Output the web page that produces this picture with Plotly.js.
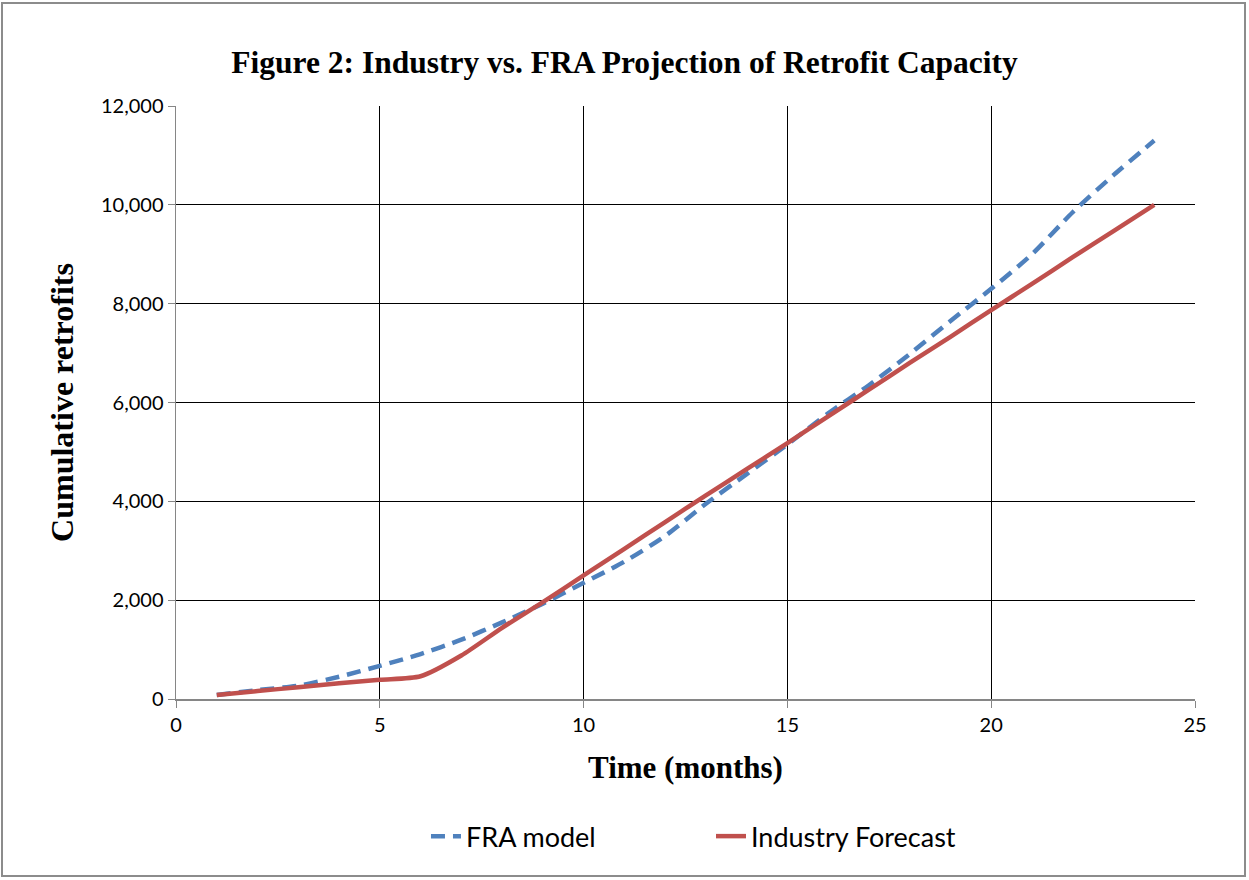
<!DOCTYPE html>
<html>
<head>
<meta charset="utf-8">
<script src="https://cdn.plot.ly/plotly-3.0.1.min.js"></script>
<style>
html,body{margin:0;padding:0;background:#fff;}
#wrap{position:relative;width:1249px;height:880px;}
#chart{width:1249px;height:880px;}
#frame{position:absolute;left:1px;top:2px;width:1245px;height:875px;border:2px solid #8c8c8c;box-sizing:border-box;pointer-events:none;}
</style>
</head>
<body>
<div id="wrap"><div id="chart"></div><div id="frame"></div></div>
<script>
const months = [1,2,3,4,5,6,7,8,9,10,11,12,13,14,15,16,17,18,19,20,21,22,23,24];
const fraModel = [80,180,270,450,670,910,1200,1550,1930,2350,2780,3300,3950,4550,5150,5780,6350,6980,7650,8300,9000,9850,10600,11300];
const industryForecast = [80,160,240,320,390,460,880,1440,1960,2500,3040,3580,4120,4650,5180,5720,6260,6800,7330,7870,8400,8940,9470,10000];
const xTicks = [0,5,10,15,20,25];
const yTicks = [0,2000,4000,6000,8000,10000,12000];

const traces = [
  {x: months, y: fraModel, name: 'FRA model', mode: 'lines',
   line: {color: '#4F81BD', width: 4.5, dash: '14px,8px', shape: 'spline', smoothing: 0.7}},
  {x: months, y: industryForecast, name: 'Industry Forecast', mode: 'lines',
   line: {color: '#C0504D', width: 4.5, shape: 'spline', smoothing: 0.7}}
];

const serif = 'Liberation Serif, Times New Roman, serif';
const sans = 'Lato, Open Sans, sans-serif';

const layout = {
  width: 1249, height: 880,
  margin: {l: 176, r: 54, t: 106, b: 181},
  paper_bgcolor: '#fff', plot_bgcolor: '#fff',
  title: {text: 'Figure 2: Industry vs. FRA Projection of Retrofit Capacity',
          font: {family: serif, size: 31.5, color: '#000', weight: 'bold'},
          x: 0.5, xanchor: 'center', y: 0.93, yanchor: 'middle'},
  xaxis: {range: [0, 25], tickvals: xTicks, ticktext: xTicks.map(String),
          showgrid: true, gridcolor: '#000', gridwidth: 1, zeroline: false,
          showline: true, linecolor: '#868686', linewidth: 1.5,
          ticks: 'outside', ticklen: 7, tickcolor: '#868686',
          tickfont: {family: sans, size: 20, color: '#000'},
          title: {text: 'Time (months)', standoff: 22,
                  font: {family: serif, size: 31, color: '#000', weight: 'bold'}}},
  yaxis: {range: [0, 12000], tickvals: yTicks, ticktext: yTicks.map(v => v.toLocaleString('en-US')),
          showgrid: true, gridcolor: '#000', gridwidth: 1, zeroline: false,
          showline: true, linecolor: '#868686', linewidth: 1.5,
          ticks: 'outside', ticklen: 7, tickcolor: '#868686',
          tickfont: {family: sans, size: 20, color: '#000'},
          title: {text: 'Cumulative retrofits', standoff: 18,
                  font: {family: serif, size: 32, color: '#000', weight: 'bold'}}},
  legend: {orientation: 'h', x: 0.525, xanchor: 'center', y: -0.232, yanchor: 'middle',
           font: {family: sans, size: 27, color: '#000'},
           entrywidth: 240, entrywidthmode: 'pixels', traceorder: 'normal'},
  showlegend: true
};

Plotly.newPlot('chart', traces, layout, {displayModeBar: false, staticPlot: true});
</script>
</body>
</html>
